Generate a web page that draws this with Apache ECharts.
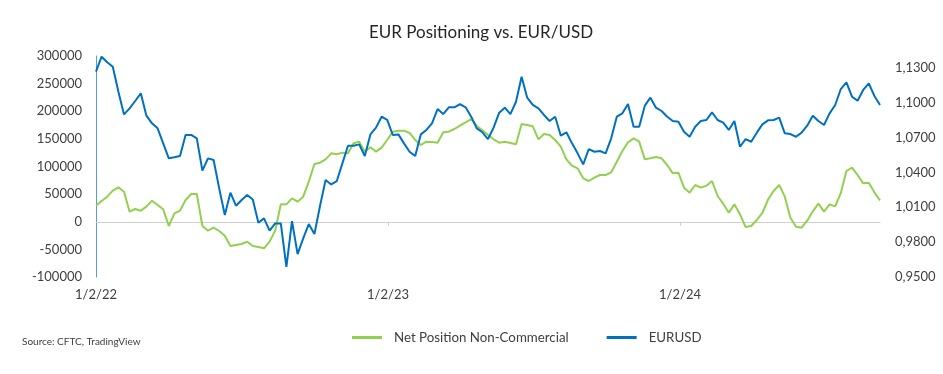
<!DOCTYPE html>
<html><head><meta charset="utf-8">
<script src="https://cdn.jsdelivr.net/npm/echarts@6/dist/echarts.min.js"></script>
<style>html,body{margin:0;padding:0;background:#fff}#c{width:943px;height:374px}</style>
</head><body><div id="c"></div>
<script>
const chartTitle = 'EUR Positioning vs. EUR/USD';
const seriesNames = ['Net Position Non-Commercial', 'EURUSD'];
const sourceText = 'Source: CFTC, TradingView';
const xTickDays = [0, 365, 730];
const xTickLabels = ['1/2/22', '1/2/23', '1/2/24'];

const netPosition = [
  29100, 37560, 45400, 56260, 62300, 54450, 18250, 23080, 20060, 27300,
  38160, 30320, 22480, -7690, 15240, 20060, 39370, 50230, 50230, -7690,
  -16140, -10710, -16740, -25190, -43890, -42080, -40270, -36050, -43890, -45700,
  -48110, -36050, -16140, 31530, 31530, 42390, 36340, 45400, 72550, 104530,
  106940, 112970, 123840, 122030, 125040, 123840, 141940, 144950, 126850, 134700,
  126850, 134090, 147970, 163050, 164860, 164860, 160640, 147970, 138920, 144950,
  144350, 143140, 161850, 163050, 167880, 173910, 179950, 185980, 173310, 165470,
  157020, 149180, 143140, 144950, 142540, 140130, 176930, 175120, 172710, 149180,
  158830, 157020, 147970, 135900, 112970, 101510, 96690, 78590, 73760, 79790,
  84620, 84620, 89450, 108750, 128060, 143750, 150990, 144950, 112970, 114780,
  117200, 114780, 102720, 87630, 88840, 61690, 52640, 66520, 61690, 65300,
  73760, 46610, 32730, 16440, 31530, 13430, -9500, -7690, 3170, 15840,
  39970, 55660, 66520, 45400, 7390, -8900, -10710, 1960, 18850, 32730,
  18250, 31530, 27900, 52040, 91860, 97890, 84620, 69530, 70740, 53240,
  38760
];

const eurusd = [
  1.1265, 1.1394, 1.1346, 1.1308, 1.1093, 1.0898, 1.0950, 1.1013, 1.1079, 1.0887,
  1.0821, 1.0778, 1.0649, 1.0520, 1.0529, 1.0540, 1.0721, 1.0721, 1.0692, 1.0414,
  1.0520, 1.0506, 1.0262, 1.0033, 1.0225, 1.0113, 1.0162, 1.0205, 1.0167, 0.9967,
  1.0004, 0.9898, 0.9961, 0.9961, 0.9588, 0.9981, 0.9697, 0.9832, 0.9955, 0.9869,
  1.0110, 1.0334, 1.0296, 1.0325, 1.0477, 1.0629, 1.0629, 1.0640, 1.0540, 1.0726,
  1.0784, 1.0878, 1.0850, 1.0721, 1.0726, 1.0649, 1.0577, 1.0540, 1.0726, 1.0764,
  1.0821, 1.0944, 1.0901, 1.0959, 1.0959, 1.0987, 1.0959, 1.0878, 1.0778, 1.0744,
  1.0686, 1.0784, 1.0913, 1.0956, 1.0901, 1.1007, 1.1222, 1.1042, 1.0979, 1.0950,
  1.0893, 1.0841, 1.0878, 1.0715, 1.0744, 1.0649, 1.0563, 1.0468, 1.0600, 1.0577,
  1.0583, 1.0563, 1.0692, 1.0878, 1.0907, 1.0987, 1.0792, 1.0792, 1.0973, 1.1042,
  1.0956, 1.0927, 1.0878, 1.0841, 1.0835, 1.0749, 1.0706, 1.0792, 1.0841, 1.0850,
  1.0916, 1.0850, 1.0827, 1.0764, 1.0841, 1.0620, 1.0686, 1.0663, 1.0741, 1.0812,
  1.0847, 1.0850, 1.0870, 1.0735, 1.0729, 1.0706, 1.0741, 1.0801, 1.0887, 1.0841,
  1.0807, 1.0907, 1.0979, 1.1116, 1.1174, 1.1050, 1.1016, 1.1108, 1.1165, 1.1056,
  1.0979
];

// weekly observations: day offset from 2 Jan 2022
const weekDay = netPosition.map((_, i) => i * 7);
const lastDay = weekDay[weekDay.length - 1];

const FONT = 'Lato, "Open Sans", sans-serif';
const TXT = '#404040';
const chart = echarts.init(document.getElementById('c'), null, {renderer: 'canvas'});

const xLabel = v => {
  const k = xTickDays.indexOf(Math.round(v));
  return k >= 0 ? xTickLabels[k] : '';
};

chart.setOption({
  animation: false,
  backgroundColor: '#ffffff',
  textStyle: {fontFamily: FONT},
  title: {
    text: chartTitle, left: 476, textAlign: 'center', top: 19,
    textStyle: {fontFamily: FONT, fontSize: 17, fontWeight: 'normal', color: '#262626'}
  },
  graphic: [{
    type: 'text', left: 22, top: 337,
    style: {text: sourceText, fontFamily: FONT, fontSize: 10, fill: TXT}
  }],
  legend: {
    left: 347, top: 326, itemGap: 38, itemWidth: 30, itemHeight: 3, icon: 'rect',
    textStyle: {fontFamily: FONT, fontSize: 13.3, color: TXT, padding: [0, 0, 0, 7]},
    data: seriesNames
  },
  grid: {left: 96, right: 63, top: 56, bottom: 97, containLabel: false},
  xAxis: [{
    type: 'value', min: 0, max: lastDay, position: 'bottom',
    axisLine: {show: false, onZero: false}, axisTick: {show: false}, splitLine: {show: false},
    axisLabel: {customValues: xTickDays, formatter: xLabel, margin: 11, fontFamily: FONT, fontSize: 13, color: TXT}
  }, {
    type: 'value', min: 0, max: lastDay, position: 'bottom',
    axisLine: {show: true, onZero: true, onZeroAxisIndex: 0, lineStyle: {color: '#d0d0d0', width: 1}},
    axisTick: {show: true, customValues: xTickDays.slice(1), length: 4, inside: false, lineStyle: {color: '#d0d0d0'}},
    axisLabel: {show: false}, splitLine: {show: false}
  }],
  yAxis: [{
    type: 'value', min: -100000, max: 300000, interval: 50000, position: 'left',
    axisLine: {show: true, lineStyle: {color: '#5B9BD5', width: 1}},
    axisTick: {show: false}, splitLine: {show: false},
    axisLabel: {margin: 14, fontFamily: FONT, fontSize: 13, color: TXT, formatter: v => String(v)}
  }, {
    type: 'value', min: 0.95, max: 1.14, interval: 0.03, position: 'right',
    axisLine: {show: false}, axisTick: {show: false}, splitLine: {show: false},
    axisLabel: {margin: 15, showMaxLabel: false, fontFamily: FONT, fontSize: 13, color: TXT,
      formatter: v => v.toFixed(4).replace('.', ',')}
  }],
  series: [{
    name: seriesNames[0], type: 'line', xAxisIndex: 0, yAxisIndex: 0,
    data: weekDay.map((d, i) => [d, netPosition[i]]),
    showSymbol: false, lineStyle: {color: '#92D050', width: 2}, itemStyle: {color: '#92D050'}
  }, {
    name: seriesNames[1], type: 'line', xAxisIndex: 0, yAxisIndex: 1,
    data: weekDay.map((d, i) => [d, eurusd[i]]),
    showSymbol: false, lineStyle: {color: '#0070C0', width: 2}, itemStyle: {color: '#0070C0'}
  }]
});
</script>
</body></html>
